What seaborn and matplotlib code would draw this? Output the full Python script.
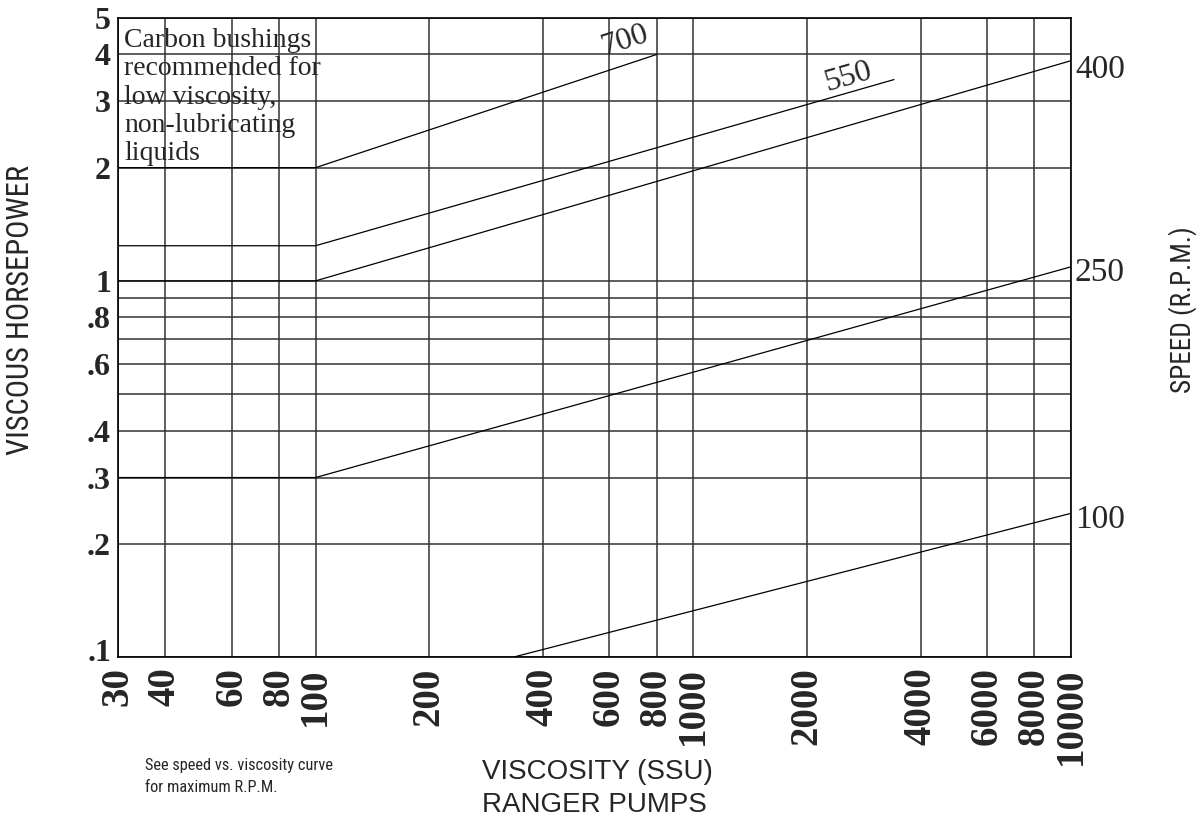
import matplotlib
matplotlib.use("Agg")
import matplotlib.pyplot as plt
from matplotlib import font_manager
from matplotlib import transforms as mtransforms
from matplotlib.ticker import FixedLocator, FixedFormatter, NullFormatter
import seaborn as sns
import pandas as pd
import numpy as np

# ---------------- data ----------------
x_ticks = [30, 40, 60, 80, 100, 200, 400, 600, 800, 1000, 2000, 4000, 6000, 8000, 10000]
x_tick_labels = ["30", "40", "60", "80", "100", "200", "400", "600", "800", "1000",
                 "2000", "4000", "6000", "8000", "10000"]
y_ticks = [0.1, 0.2, 0.3, 0.4, 0.6, 0.8, 1, 2, 3, 4, 5]
y_tick_labels = [".1", ".2", ".3", ".4", ".6", ".8", "1", "2", "3", "4", "5"]
y_minor = [0.5, 0.7, 0.9]

# speed curves (viscous horsepower vs viscosity)
rpm700_x = [30, 100, 800]
rpm700_y = [2.0, 2.0, 4.0]
rpm550_x = [30, 100, 3400]
rpm550_y = [1.24, 1.24, 3.43]
rpm400_x = [30, 100, 10000]
rpm400_y = [1.0, 1.0, 3.85]
rpm250_x = [30, 100, 10000]
rpm250_y = [0.3, 0.3, 1.09]
rpm100_x = [335, 10000]
rpm100_y = [0.1, 0.241]

note_lines = ["Carbon bushings", "recommended for", "low viscosity,",
              "non-lubricating", "liquids"]

# ---------------- fonts ----------------
sns.set_style("white")
names = {f.name for f in font_manager.fontManager.ttflist}
narrow = None
for cand in ["Liberation Sans Narrow", "Arial Narrow", "Roboto Condensed",
             "Open Sans Condensed", "DejaVu Sans Condensed"]:
    if cand in names:
        narrow = cand
        break
scale = 1.0
if narrow is None:
    narrow = "Liberation Sans"
    scale = 0.84
serif = "Liberation Serif"
sans = "Liberation Sans"
plt.rcParams["font.family"] = [serif, "DejaVu Serif"]

# ---------------- figure ----------------
W, H = 1203, 818
fig = plt.figure(figsize=(W / 100, H / 100), dpi=100)
ax = fig.add_axes([118 / W, 1 - 657 / H, (1071 - 118) / W, (657 - 18) / H])

frames = []
for spd, xs, ys in [(700, rpm700_x, rpm700_y), (550, rpm550_x, rpm550_y),
                    (400, rpm400_x, rpm400_y), (250, rpm250_x, rpm250_y),
                    (100, rpm100_x, rpm100_y)]:
    frames.append(pd.DataFrame({"visc": xs, "hp": ys, "rpm": spd}))
df = pd.concat(frames, ignore_index=True)

sns.lineplot(data=df, x="visc", y="hp", hue="rpm", estimator=None,
             palette={k: "black" for k in df["rpm"].unique()},
             linewidth=0.9, legend=False, ax=ax, zorder=3)

ax.set_xscale("log")
ax.set_yscale("log")
ax.set_xlim(30, 10000)
ax.set_ylim(0.1, 5)

ax.xaxis.set_major_locator(FixedLocator(x_ticks))
ax.xaxis.set_major_formatter(FixedFormatter(x_tick_labels))
ax.xaxis.set_minor_locator(FixedLocator([]))
ax.xaxis.set_minor_formatter(NullFormatter())
ax.yaxis.set_major_locator(FixedLocator(y_ticks))
ax.yaxis.set_major_formatter(FixedFormatter(y_tick_labels))
ax.yaxis.set_minor_locator(FixedLocator(y_minor))
ax.yaxis.set_minor_formatter(NullFormatter())

ax.grid(True, which="both", color="#333333", linewidth=1.1)
ax.tick_params(axis="both", which="both", length=0)
ax.tick_params(axis="x", pad=7.5)
ax.tick_params(axis="y", pad=5)
for lab in ax.get_xticklabels():
    lab.set_rotation(90)
    lab.set_fontsize(28)
    lab.set_fontweight("bold")
    lab.set_family(serif)
for lab in ax.get_yticklabels():
    lab.set_fontsize(23)
    lab.set_fontweight("bold")
    lab.set_family(serif)
for s in ax.spines.values():
    s.set_visible(True)
    s.set_color("black")
    s.set_linewidth(1.2)
ax.set_xlabel("")
ax.set_ylabel("")

# nudge the bottom ".1" label up a little so it clears the "30" label
bottom_tick = ax.yaxis.get_major_ticks()[0]
bottom_tick.label1.set_transform(
    mtransforms.offset_copy(bottom_tick.label1.get_transform(), fig=fig,
                            x=0, y=7, units="dots"))

# curve labels
for txt, y_end, dy in [("400", rpm400_y[-1], -9), ("250", rpm250_y[-1], -6),
                       ("100", rpm100_y[-1], -6)]:
    ax.annotate(txt, xy=(10000, y_end), xytext=(4, dy), textcoords="offset pixels",
                ha="left", va="center", fontsize=24, family=serif,
                annotation_clip=False)
ax.text(660, 4.35, "700", rotation=18, rotation_mode="anchor", ha="center",
        va="center", fontsize=23, family=serif)
ax.text(2570, 3.49, "550", rotation=16, rotation_mode="anchor", ha="center",
        va="center", fontsize=23, family=serif)

# carbon bushings note
for i, line in enumerate(note_lines):
    fig.text(124 / W, 1 - (47 + 28.25 * i) / H, line, ha="left", va="baseline",
             fontsize=20, family=serif)

# axis titles
fig.text(21 / W, 1 - 310 / H, "VISCOUS HORSEPOWER", rotation=90, ha="center",
         va="center", fontsize=22 * scale, family=narrow)
fig.text(1183 / W, 1 - 310 / H, "SPEED (R.P.M.)", rotation=90, ha="center",
         va="center", fontsize=19.5 * scale, family=narrow)
fig.text(482 / W, 1 - 779 / H, "VISCOSITY (SSU)", ha="left", va="baseline",
         fontsize=20, family=sans)
fig.text(482 / W, 1 - 812 / H, "RANGER PUMPS", ha="left", va="baseline",
         fontsize=20, family=sans)
fig.text(145 / W, 1 - 770 / H, "See speed vs. viscosity curve", ha="left",
         va="baseline", fontsize=11.8 * scale, family=narrow)
fig.text(145 / W, 1 - 792 / H, "for maximum R.P.M.", ha="left",
         va="baseline", fontsize=11.8 * scale, family=narrow)

fig.savefig("out.png", dpi=100)
